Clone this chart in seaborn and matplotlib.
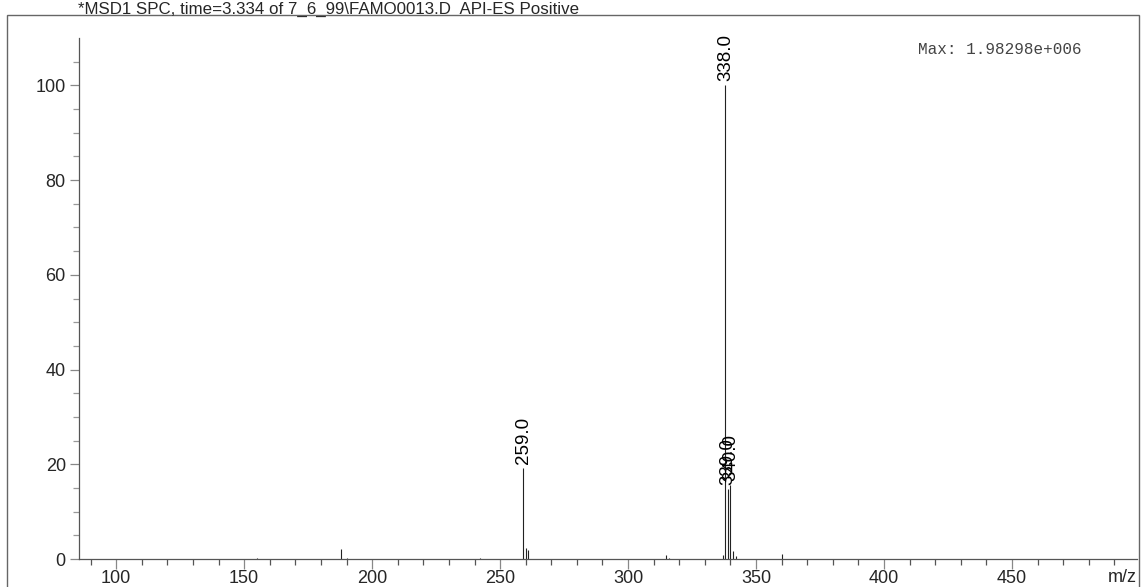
import numpy as np
import pandas as pd
import matplotlib
matplotlib.use("Agg")
import matplotlib.pyplot as plt
import seaborn as sns
from matplotlib.patches import Rectangle

# ================= DATA =================
mz = [155, 188, 190, 242, 259, 260, 261, 315, 316, 337, 338, 339, 340, 341, 342, 360]
abundance = [0.3, 2.2, 0.3, 0.2, 19.2, 2.3, 1.8, 0.8, 0.2, 0.8, 100.0, 14.8, 15.6, 1.7, 0.6, 1.0]
labeled_peaks = [259, 338, 339, 340]

title_text = "*MSD1 SPC, time=3.334 of 7_6_99\\FAMO0013.D  API-ES Positive"
max_text = "Max: 1.98298e+006"

spec = pd.DataFrame({"mz": mz, "abundance": abundance})

# ================= STYLE =================
sns.set_style("white")
plt.rcParams["font.family"] = ["Liberation Sans", "DejaVu Sans"]

W, H = 1141, 587
fig = plt.figure(figsize=(W / 100, H / 100), dpi=100)
ax = fig.add_axes([79 / W, 1 - 559 / H, (1137 - 79) / W, (559 - 38) / H])

# ================= PEAKS =================
ax.vlines(spec["mz"], 0, spec["abundance"], color="#222222", linewidth=0.8)

for _, row in spec[spec["mz"].isin(labeled_peaks)].iterrows():
    ax.text(row["mz"], row["abundance"] + 0.9, f"{row['mz']:.1f}",
            rotation=90, ha="center", va="bottom", fontsize=13.5, color="black")

ax.set_xlim(85.5, 498.8)
ax.set_ylim(0, 110)

# ================= AXES =================
sns.despine(ax=ax, top=True, right=True)
for side in ["left", "bottom"]:
    ax.spines[side].set_color("#555555")
    ax.spines[side].set_linewidth(0.9)

ax.set_xticks(np.arange(100, 451, 50))
ax.set_xticks(np.arange(90, 500, 10), minor=True)
ax.set_yticks(np.arange(0, 101, 20))
ax.set_yticks(np.arange(0, 110, 5), minor=True)

ax.tick_params(axis="x", which="major", direction="out", length=7, width=0.9,
               color="#888888", labelsize=13, pad=1, bottom=True)
ax.tick_params(axis="x", which="minor", direction="out", length=4, width=0.9,
               color="#555555", bottom=True)
ax.tick_params(axis="y", which="major", direction="out", length=6.5, width=0.9,
               color="#888888", labelsize=13, pad=3, left=True)
ax.tick_params(axis="y", which="minor", direction="out", length=4, width=0.9,
               color="#999999", left=True)

ax.text(1.0, -0.02, "m/z", transform=ax.transAxes, ha="right", va="top", fontsize=13)

# ================= ANNOTATIONS =================
fig.text(78 / W, 1 - 2 / H, title_text, ha="left", va="top", fontsize=12.2)
fig.text(918 / W, 1 - 50 / H, max_text, ha="left", va="center", fontsize=11.5,
         family=["Liberation Mono", "DejaVu Sans Mono"], color="#444444")

# outer frame
fig.patches.append(Rectangle((7 / W, -0.05), (1139 - 7) / W, 1.05 - 15 / H,
                             transform=fig.transFigure, fill=False,
                             edgecolor="#666666", linewidth=1.0))

fig.savefig("out.png", dpi=100)
